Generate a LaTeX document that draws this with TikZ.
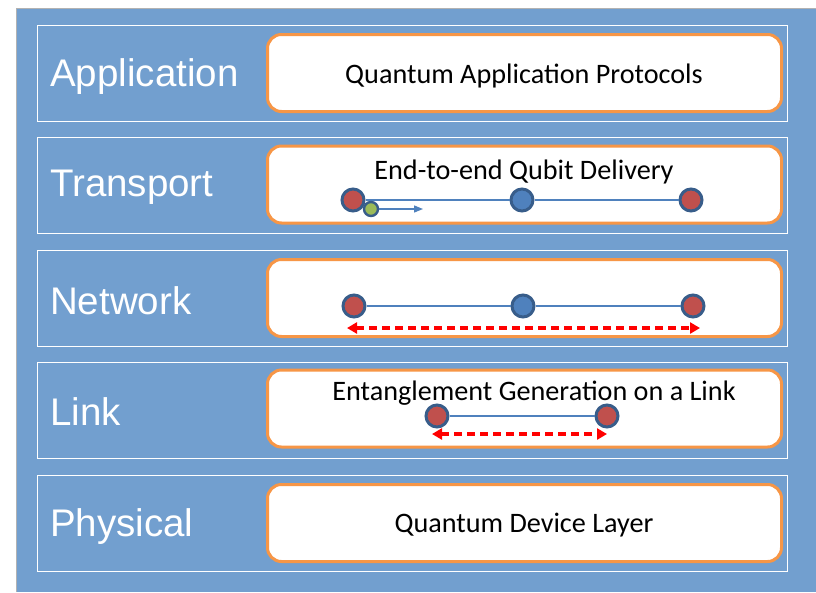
\documentclass[tikz,border=0pt]{standalone}
\usepackage{fontspec}
\setmainfont{Carlito}
\newfontfamily\layerfont{Liberation Sans}
\usetikzlibrary{calc, arrows.meta, positioning}

\definecolor{bgblue}{RGB}{114,159,207}
\definecolor{boxorange}{RGB}{247,150,70}
\definecolor{qred}{RGB}{192,80,77}
\definecolor{qblue}{RGB}{79,129,189}
\definecolor{qgreen}{RGB}{155,187,89}
\definecolor{qrim}{RGB}{56,93,138}

\begin{document}
\begin{tikzpicture}
    [x=1pt, y=-1pt,
    layer/.style={rectangle, draw=white, line width=0.9pt, inner sep=0pt, outer sep=0pt,
        minimum width=750pt, minimum height=96pt},
    layername/.style={anchor=west, inner sep=0pt, text=white, font=\layerfont\fontsize{38.5}{40}\selectfont},
    protobox/.style={rectangle, rounded corners=14pt, draw=boxorange, line width=3pt, fill=white,
        minimum width=514pt, minimum height=77pt},
    boxtext/.style={inner sep=0pt, font=\fontsize{28.2}{30}\selectfont},
    qubit/.style={circle, draw=qrim, line width=3pt, minimum size=22pt, inner sep=0pt},
    endnode/.style={qubit, fill=qred},
    repeater/.style={qubit, fill=qblue},
    payload/.style={circle, draw=qrim, line width=2.4pt, fill=qgreen, minimum size=14pt, inner sep=0pt},
    qline/.style={draw=qblue, line width=1.3pt},
    entangle/.style={draw=red, line width=3.4pt, dash pattern=on 8pt off 5pt,
        {Triangle[length=10pt,width=11pt]}-{Triangle[length=10pt,width=11pt]}}]

\useasboundingbox (0,0) rectangle (816,592);
\fill[bgblue] (17,9) rectangle (816,592);
\draw[gray!60, line width=0.8pt] (16.5,592) -- (16.5,8.5) -- (816,8.5);

% the five layers
\node[layer] (app)  at (412,73)    {};
\node[layer] (tra)  at (412,185.5) {};
\node[layer] (net)  at (412,298)   {};
\node[layer] (lnk)  at (412,410.5) {};
\node[layer] (phy)  at (412,523)   {};

\node[layername] (appname) at ($(app.west)+(13,4)$) {Application};
\node[layername] (traname) at ($(tra.west)+(13,2)$) {Transport};
\node[layername] (netname) at ($(net.west)+(13,3)$) {Network};
\node[layername] (lnkname) at ($(lnk.west)+(13,1)$) {Link};
\node[layername] (phyname) at ($(phy.west)+(13,4)$) {Physical};

\node[protobox] (appbox) at ($(app.center)+(112.5,0)$) {};
\node[protobox] (trabox) at ($(tra.center)+(112.5,-1)$) {};
\node[protobox] (netbox) at ($(net.center)+(112.5,0)$) {};
\node[protobox] (lnkbox) at ($(lnk.center)+(112.5,-2)$) {};
\node[protobox] (phybox) at ($(phy.center)+(112.5,0)$) {};

\node[boxtext] at (524,76)  {Quantum Application Protocols};
\node[boxtext] at (524,172) {End-to-end Qubit Delivery};
\node[boxtext] at (534,393) {Entanglement Generation on a Link};
\node[boxtext] at (524,525) {Quantum Device Layer};

% transport: qubit sent end to end
\node[endnode]  (t1) at (353,200) {};
\node[repeater] (t2) at (522,200) {};
\node[endnode]  (t3) at (691,200) {};
\draw[qline] (t1) -- (t2) -- (t3);
\node[payload] (q) at (371,209) {};
\coordinate (qto) at (423,209);
\draw[qline, -{Triangle[length=9pt,width=7pt]}] (q) -- (qto);

% network: end-to-end entanglement over a repeater
\node[endnode]  (n1) at (354,306) {};
\node[repeater] (n2) at (523,306) {};
\node[endnode]  (n3) at (693,306) {};
\draw[qline] (n1) -- (n2) -- (n3);
\coordinate (nl) at (347,328);
\coordinate (nr) at (700,328);
\draw[entangle] (nl) -- (nr);

% link: neighbouring nodes
\node[endnode] (l1) at (437,416) {};
\node[endnode] (l2) at (607,416) {};
\draw[qline] (l1) -- (l2);
\coordinate (ll) at (432,434);
\coordinate (lr) at (607,434);
\draw[entangle] (ll) -- (lr);
\end{tikzpicture}
\end{document}
